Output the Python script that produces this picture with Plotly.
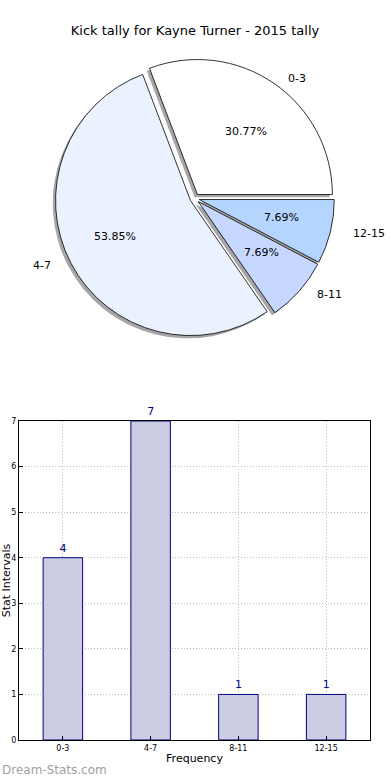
import math
import plotly.graph_objects as go

categories = ["0-3", "4-7", "8-11", "12-15"]
counts = [4, 7, 1, 1]
pie_colors = ["#FFFFFF", "#EAF1FF", "#C6D8FF", "#B3D5FF"]
y_ticks = [0, 1, 2, 3, 4, 5, 6, 7]

W, H = 390, 780
FONT = "DejaVu Sans"

# pie geometry (pixels -> paper fractions)
cx, cy, half = 194.7, 198.4, 139.7
rx_txt, ry_txt = 141.4, 128.0  # text placement radii
sh = 2.8  # shadow offset px
pull = 0.035
total = sum(counts)
# first slice should start at 3 o'clock and run counterclockwise
start_rot = 90 - 360 * counts[0] / total

def dom(cxp, cyp):
    return dict(x=[(cxp - half) / W, (cxp + half) / W],
                y=[(H - cyp - half) / H, (H - cyp + half) / H])

fig = go.Figure()

# shadow
fig.add_trace(go.Pie(
    labels=categories, values=counts, sort=False, direction="counterclockwise",
    rotation=start_rot, pull=[pull] * len(counts), domain=dom(cx - sh, cy + sh),
    marker=dict(colors=["#A6A6A6"] * 4, line=dict(width=0)),
    textinfo="none", showlegend=False, hoverinfo="skip"))

# main pie
fig.add_trace(go.Pie(
    labels=categories, values=counts, sort=False, direction="counterclockwise",
    rotation=start_rot, pull=[pull] * len(counts), domain=dom(cx, cy),
    marker=dict(colors=pie_colors, line=dict(color="black", width=0.8)),
    textinfo="none", showlegend=False))

# pie texts, positioned at each slice's mid-angle (labels outside, percents inside)
annotations = []
cum = 0
for lab, v in zip(categories, counts):
    mid = math.radians(360 * (cum + v / 2) / total)
    cum += v
    c, s = math.cos(mid), math.sin(mid)
    for k, txt, anchor in [
        (pull + 1.1, lab, "left" if c > 0 else "right"),
        (pull + 0.6, f"{100 * v / total:.2f}%", "center"),
    ]:
        annotations.append(dict(
            text=txt, xref="paper", yref="paper",
            x=(cx + k * rx_txt * c) / W, y=(H - (cy - k * ry_txt * s)) / H,
            xanchor=anchor, yanchor="middle", showarrow=False,
            font=dict(family=FONT, size=11, color="black")))

# bar chart
fig.add_trace(go.Bar(
    x=categories, y=counts, width=0.45,
    marker=dict(color="#CCCCE5", line=dict(color="#000080", width=1)),
    text=counts, textposition="outside", cliponaxis=False,
    textfont=dict(family=FONT, size=11, color="#000080"),
    showlegend=False, xaxis="x", yaxis="y"))

annotations.append(dict(text="Dream-Stats.com", xref="paper", yref="paper", x=0, y=(H - 770) / H,
                        xanchor="left", yanchor="middle", showarrow=False,
                        font=dict(family=FONT, size=12, color="#A0A0A0")))

grid = dict(showgrid=True, gridcolor="#BDBDBD", griddash="1px,2px", gridwidth=1)

fig.update_layout(
    width=W, height=H, margin=dict(l=0, r=0, t=0, b=0),
    paper_bgcolor="white", plot_bgcolor="white",
    font=dict(family=FONT, color="black"),
    title=dict(text="Kick tally for Kayne Turner - 2015 tally", x=0.5, xanchor="center",
               y=1 - 30 / H, yanchor="middle", font=dict(family=FONT, size=13, color="black")),
    xaxis=dict(domain=[19 / W, 370 / W], anchor="y", range=[-0.5, 3.5], automargin=False,
               showline=True, linecolor="black", linewidth=1, mirror=True, **grid,
               ticks="inside", ticklen=4, tickcolor="black",
               tickfont=dict(family=FONT, size=8, color="black"),
               title=dict(text="Frequency", font=dict(family=FONT, size=11, color="black"), standoff=2),
               zeroline=False),
    yaxis=dict(domain=[(H - 740) / H, (H - 421) / H], anchor="x", range=[0, 7], automargin=False,
               tickvals=y_ticks,
               showline=True, linecolor="black", linewidth=1, mirror=True, **grid,
               ticks="inside", ticklen=4, tickcolor="black",
               tickfont=dict(family=FONT, size=8, color="black"),
               title=dict(text="Stat Intervals", font=dict(family=FONT, size=11, color="black"), standoff=4),
               zeroline=False),
    annotations=annotations,
)

fig.write_html("out.html", config={"displayModeBar": False},
               post_script="document.body.style.margin='0';")
